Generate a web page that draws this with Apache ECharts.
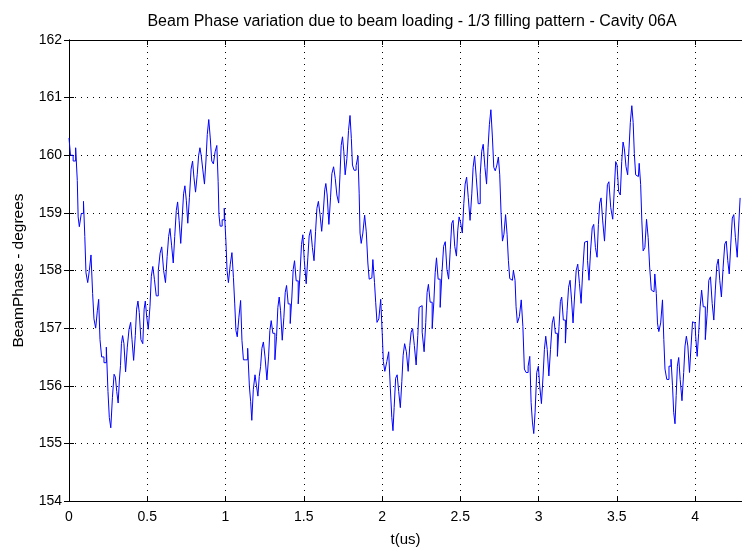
<!DOCTYPE html>
<html style="height: 100%">
<head>
    <meta charset="utf-8">
    <script type="text/javascript" src="https://cdn.jsdelivr.net/npm/echarts@6/dist/echarts.min.js"></script>
</head>
<body style="height: 100%; margin: 0; background: #fff">
<div id="container" style="width: 742px; height: 552px"></div>
<script type="text/javascript">
    // [t(us), beam phase (deg)], one array per loading cycle
    var cycle1 = [
        [0.000,160.30],[0.019,160.00],[0.034,159.90],[0.051,160.13],[0.055,159.56],[0.062,158.93],[0.070,158.76],
        [0.087,158.99],[0.098,159.20],[0.104,158.59],[0.113,157.96],[0.126,157.79],[0.134,158.00],[0.147,158.27],
        [0.155,157.60],[0.164,157.16],[0.177,157.00],[0.185,157.30],[0.194,157.50],[0.202,156.80],[0.215,156.50],
        [0.232,156.40],[0.245,156.67],[0.253,155.90],[0.262,155.45],[0.272,155.27],[0.283,155.80],[0.293,156.20],
        [0.300,156.15],[0.310,155.90],[0.318,155.70],[0.326,156.10],[0.332,156.35],[0.338,156.73],[0.347,156.87],
        [0.355,156.73],[0.368,156.24],[0.377,156.67],[0.390,156.98],[0.398,157.10],[0.407,156.80],[0.419,156.44],
        [0.428,156.87],[0.436,157.33],[0.445,157.47],[0.453,157.27],[0.466,156.80],[0.477,156.73],[0.483,157.33],
        [0.492,157.47],[0.500,157.21],[0.513,156.98],[0.522,157.38],[0.530,157.90],[0.541,158.07],[0.551,157.84],
        [0.564,157.56],[0.577,158.00],[0.587,158.30],[0.598,158.41],[0.611,158.00],[0.622,157.79],[0.632,158.24],
        [0.641,158.59],[0.649,158.73],[0.662,158.44],[0.670,158.13],[0.681,158.59],[0.690,159.04],[0.698,159.19],
        [0.709,158.87],[0.719,158.47],[0.728,158.93],[0.736,159.33],[0.745,159.47],[0.754,159.22],[0.764,158.82],
        [0.775,159.27],[0.785,159.76],[0.794,159.90],[0.802,159.62],[0.815,159.36],[0.824,159.67],[0.832,159.99],
        [0.841,160.13],[0.849,159.99],[0.860,159.76],[0.871,159.50],[0.879,159.90],[0.888,160.36],[0.898,160.62],
        [0.907,160.30],[0.917,159.90],[0.928,159.85]
    ];
    var cycle2 = [
        [0.939,160.06],[0.950,160.17],[0.956,159.54],[0.960,158.97],[0.971,158.77],[0.986,158.88],[0.998,159.08],
        [1.007,158.51],[1.013,158.00],[1.024,157.79],[1.037,158.11],[1.045,158.31],[1.056,157.88],[1.062,157.42],
        [1.071,156.96],[1.079,156.85],[1.092,157.19],[1.101,157.48],[1.109,156.79],[1.120,156.45],[1.135,156.45],
        [1.148,156.65],[1.157,155.99],[1.164,155.73],[1.172,155.40],[1.183,155.93],[1.194,156.19],[1.203,155.99],
        [1.211,155.82],[1.220,156.16],[1.228,156.33],[1.237,156.65],[1.247,156.76],[1.258,156.50],[1.271,156.10],
        [1.279,156.50],[1.288,156.96],[1.296,157.13],[1.309,156.91],[1.322,156.45],[1.330,156.85],[1.339,157.36],
        [1.347,157.54],[1.356,157.31],[1.369,156.79],[1.377,157.19],[1.386,157.62],[1.394,157.74],[1.407,157.42],
        [1.420,157.08],[1.428,157.54],[1.437,158.02],[1.445,158.17],[1.458,157.82],[1.471,157.42],[1.481,157.94],
        [1.490,158.45],[1.498,158.62],[1.509,158.17],[1.522,157.77],[1.530,158.22],[1.539,158.60],[1.550,158.71],
        [1.560,158.40],[1.571,158.17],[1.580,158.68],[1.588,159.08],[1.599,159.20],[1.609,158.97],[1.620,158.68],
        [1.631,159.05],[1.637,159.40],[1.645,159.51],[1.654,159.31],[1.667,158.80],[1.675,159.26],[1.684,159.68],
        [1.697,159.80],[1.705,159.60],[1.718,159.31],[1.728,159.17],[1.735,159.66],[1.743,160.17],[1.752,160.32],
        [1.760,160.06],[1.769,159.66],[1.782,159.94],[1.790,160.43],[1.801,160.69],[1.807,160.29],[1.815,159.83],
        [1.828,159.74]
    ];
    var cycle3 = [
        [1.841,159.82],[1.852,159.99],[1.856,159.33],[1.863,158.65],[1.871,158.47],[1.884,158.65],[1.894,158.96],
        [1.905,158.67],[1.914,158.13],[1.922,157.85],[1.935,157.87],[1.948,158.19],[1.956,157.79],[1.963,157.45],
        [1.973,157.10],[1.986,157.16],[1.997,157.50],[2.005,156.93],[2.012,156.42],[2.024,156.25],[2.037,156.42],
        [2.048,156.59],[2.058,155.96],[2.067,155.45],[2.073,155.22],[2.082,155.62],[2.092,156.13],[2.101,156.19],
        [2.112,155.90],[2.122,155.62],[2.131,156.07],[2.139,156.53],[2.150,156.73],[2.161,156.59],[2.173,156.25],
        [2.182,156.70],[2.190,156.93],[2.201,156.99],[2.212,156.70],[2.224,156.36],[2.233,156.87],[2.241,157.36],
        [2.250,157.39],[2.263,156.93],[2.275,156.59],[2.284,157.10],[2.292,157.62],[2.301,157.76],[2.314,157.45],
        [2.327,156.99],[2.335,157.45],[2.344,157.96],[2.352,158.22],[2.365,157.85],[2.378,157.36],[2.388,157.96],
        [2.399,158.42],[2.409,158.50],[2.420,158.02],[2.431,157.85],[2.441,158.36],[2.450,158.82],[2.458,158.87],
        [2.471,158.42],[2.480,158.25],[2.488,158.70],[2.497,158.93],[2.508,158.82],[2.518,158.65],[2.527,159.16],
        [2.535,159.50],[2.546,159.62],[2.556,159.27],[2.569,158.87],[2.578,159.33],[2.586,159.79],[2.597,159.99],
        [2.607,159.62],[2.622,159.16],[2.633,159.67],[2.641,160.07],[2.652,160.19],[2.663,159.79],[2.673,159.50],
        [2.682,160.13],[2.690,160.53],[2.701,160.79],[2.710,160.30],[2.718,159.79],[2.729,159.73]
    ];
    var cycle4 = [
        [2.739,159.83],[2.748,159.97],[2.756,159.66],[2.765,159.00],[2.774,158.51],[2.784,158.63],[2.795,158.97],
        [2.803,158.63],[2.812,158.17],[2.820,157.86],[2.833,157.83],[2.846,158.00],[2.854,157.83],[2.859,157.37],
        [2.871,157.09],[2.884,157.20],[2.895,157.49],[2.905,157.03],[2.914,156.29],[2.927,156.23],[2.940,156.34],
        [2.948,156.51],[2.957,155.71],[2.965,155.37],[2.974,155.17],[2.982,155.54],[2.995,156.23],[3.003,156.34],
        [3.012,156.00],[3.025,155.69],[3.033,156.17],[3.042,156.63],[3.050,156.86],[3.061,156.63],[3.071,156.17],
        [3.082,156.63],[3.093,157.09],[3.101,157.20],[3.114,156.91],[3.127,156.51],[3.135,157.03],[3.144,157.46],
        [3.152,157.54],[3.165,157.14],[3.178,156.74],[3.187,157.31],[3.197,157.71],[3.206,157.83],[3.216,157.49],
        [3.225,157.09],[3.235,157.54],[3.246,158.00],[3.255,158.11],[3.268,157.77],[3.276,157.43],[3.289,158.00],
        [3.299,158.49],[3.308,158.51],[3.318,158.17],[3.327,157.83],[3.338,158.34],[3.348,158.74],[3.357,158.80],
        [3.370,158.40],[3.378,158.23],[3.387,158.80],[3.395,159.17],[3.404,159.26],[3.416,158.86],[3.427,158.51],
        [3.436,159.03],[3.444,159.49],[3.455,159.54],[3.468,159.09],[3.480,158.89],[3.489,159.43],[3.497,159.89],
        [3.506,159.83],[3.518,159.37],[3.527,159.31],[3.536,159.89],[3.544,160.23],[3.553,160.11],[3.565,159.80],
        [3.574,159.66],[3.582,160.11],[3.591,160.57],[3.601,160.86],[3.608,160.57],[3.616,160.03],[3.625,159.66],
        [3.638,159.63]
    ];
    var cycle5 = [
        [3.648,159.86],[3.657,159.49],[3.663,158.86],[3.674,158.34],[3.685,158.40],[3.695,158.89],[3.706,158.57],
        [3.714,158.06],[3.727,157.66],[3.738,157.63],[3.748,157.94],[3.757,157.60],[3.763,157.09],[3.774,156.94],
        [3.787,157.09],[3.797,157.49],[3.804,156.80],[3.812,156.29],[3.827,156.11],[3.840,156.34],[3.853,156.46],
        [3.859,156.00],[3.868,155.54],[3.876,155.34],[3.883,155.83],[3.891,156.34],[3.900,156.49],[3.910,156.11],
        [3.923,155.74],[3.932,156.23],[3.940,156.69],[3.949,156.86],[3.959,156.69],[3.970,156.23],[3.979,156.69],
        [3.989,157.11],[4.000,157.09],[4.008,156.86],[4.019,156.51],[4.027,156.91],[4.038,157.37],[4.046,157.66],
        [4.059,157.37],[4.072,156.80],[4.083,157.26],[4.093,157.83],[4.104,157.89],[4.115,157.43],[4.125,157.14],
        [4.134,157.66],[4.144,158.09],[4.153,158.20],[4.163,157.83],[4.174,157.54],[4.185,158.06],[4.195,158.46],
        [4.204,158.51],[4.214,158.17],[4.223,157.94],[4.234,158.46],[4.242,158.91],[4.253,158.97],[4.263,158.57],
        [4.276,158.23],[4.285,158.86],[4.291,159.26]
    ];
    var phaseData = cycle1.concat(cycle2, cycle3, cycle4, cycle5);

    var font = 'Liberation Sans';
    var dots = {show: true, lineStyle: {color: '#000', type: [1, 5], width: 1}};

    var dom = document.getElementById("container");
    var myChart = echarts.init(dom);
    var option = {
        animation: false,
        title: {
            text: 'Beam Phase variation due to beam loading - 1/3 filling pattern - Cavity 06A',
            left: 407, top: 9, textAlign: 'center',
            textStyle: {fontFamily: font, fontSize: 16, fontWeight: 'normal', color: '#000'}
        },
        grid: {left: 69, right: -1, top: 40, bottom: 49},
        xAxis: [{
            type: 'value', min: 0, max: 4.3, interval: 0.5,
            name: 't(us)', nameLocation: 'middle', nameGap: 31,
            nameTextStyle: {fontFamily: font, fontSize: 15, color: '#000'},
            axisLine: {onZero: false, lineStyle: {color: '#000'}},
            axisTick: {inside: true, length: 5, lineStyle: {color: '#000'}},
            axisLabel: {fontFamily: font, fontSize: 14, color: '#000', margin: 9, showMaxLabel: false},
            splitLine: dots
        }, {
            type: 'value', position: 'top', min: 0, max: 4.3, interval: 0.5,
            axisLine: {show: true, lineStyle: {color: '#000'}},
            axisTick: {inside: true, length: 5, lineStyle: {color: '#000'}},
            axisLabel: {show: false}, splitLine: {show: false}
        }],
        yAxis: [{
            type: 'value', min: 154, max: 162, interval: 1,
            name: 'BeamPhase - degrees', nameLocation: 'middle', nameGap: 42,
            nameTextStyle: {fontFamily: font, fontSize: 15.5, color: '#000'},
            axisLine: {show: true, onZero: false, lineStyle: {color: '#000'}},
            axisTick: {show: true, inside: true, length: 5, lineStyle: {color: '#000'}},
            axisLabel: {fontFamily: font, fontSize: 14, color: '#000', margin: 7},
            splitLine: dots
        }, {
            type: 'value', position: 'right', min: 154, max: 162, interval: 1,
            axisLine: {show: true, lineStyle: {color: '#000'}},
            axisTick: {show: true, inside: true, length: 5, lineStyle: {color: '#000'}},
            axisLabel: {show: false}, splitLine: {show: false}
        }],
        series: [{
            type: 'line',
            data: phaseData,
            step: 'middle',
            showSymbol: false,
            lineStyle: {color: '#0000ff', width: 1},
            itemStyle: {color: '#0000ff'}
        }]
    };
    myChart.setOption(option);
</script>
</body>
</html>
